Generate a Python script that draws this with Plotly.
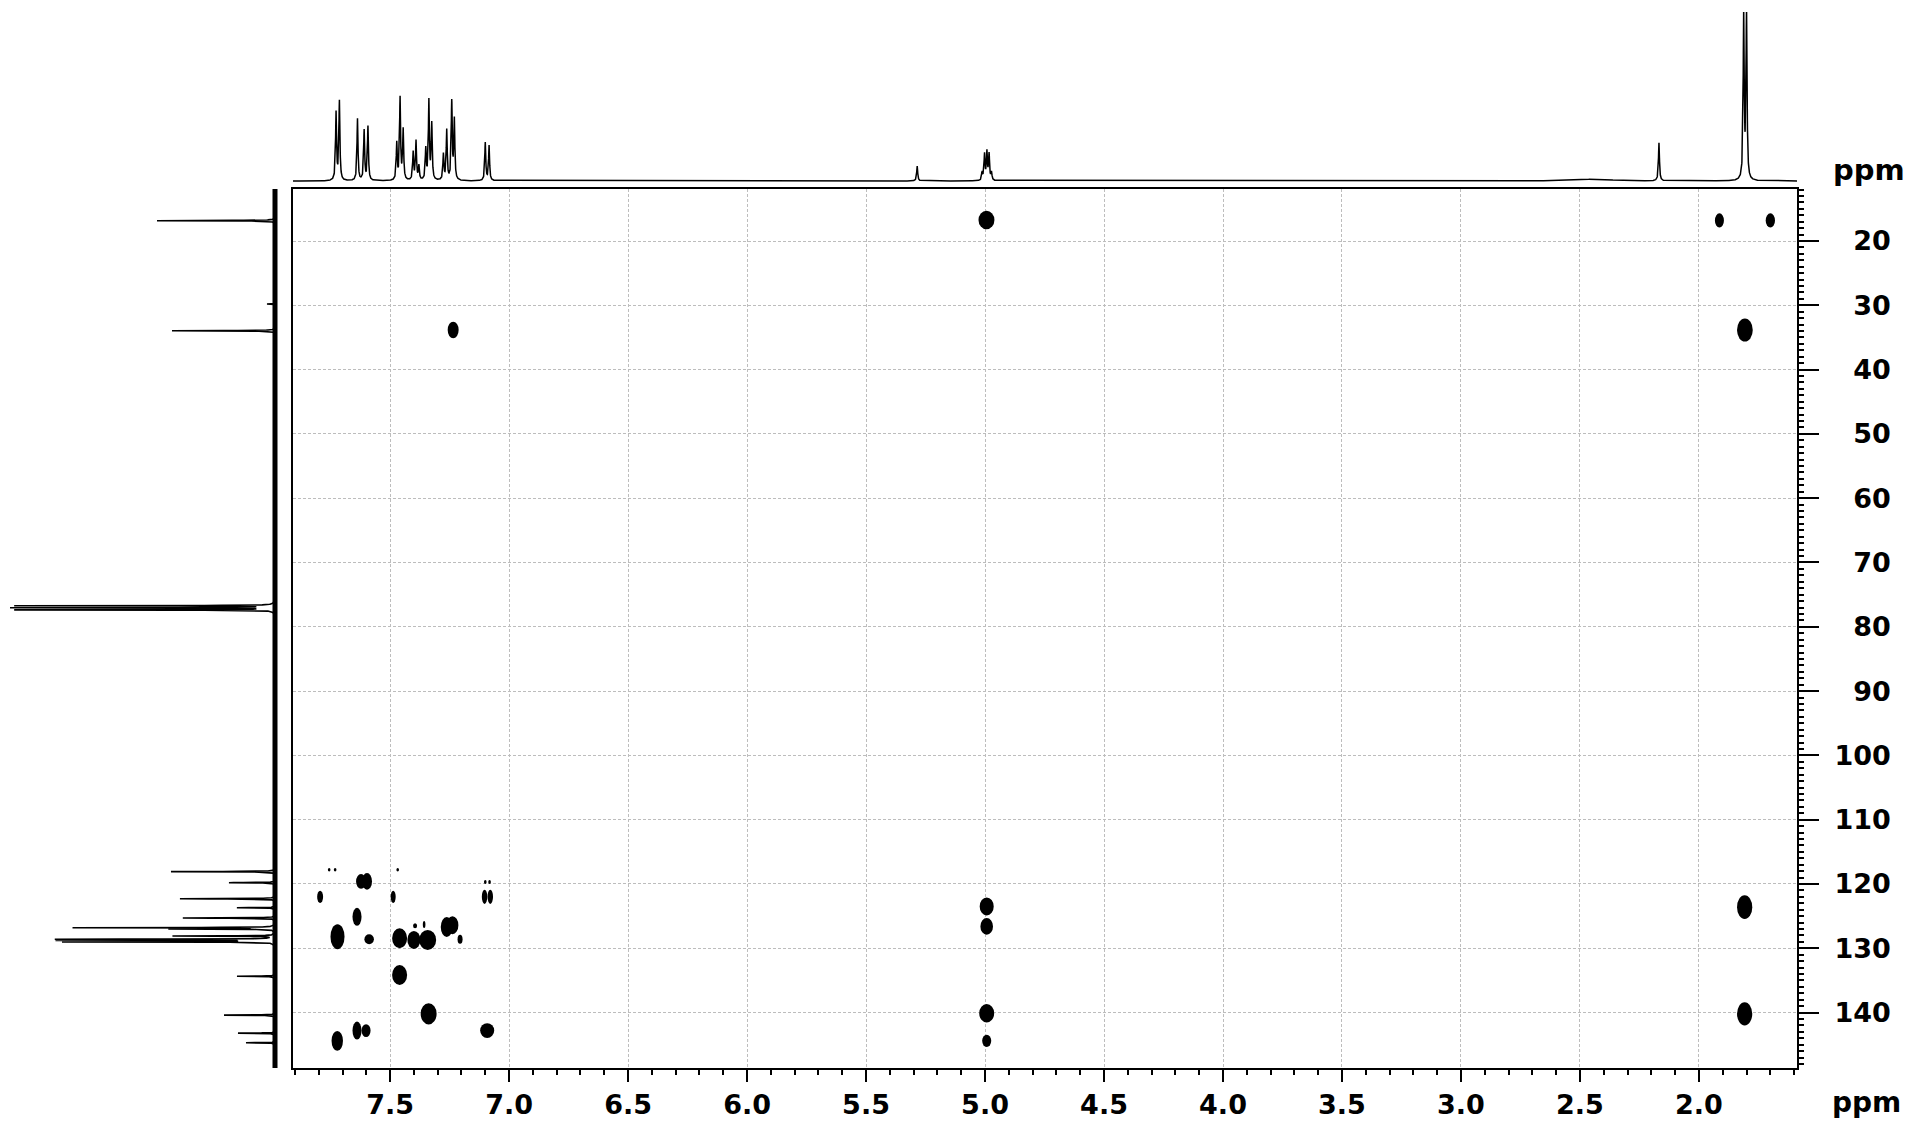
import numpy as np
import plotly.graph_objects as go

# ---------------- data ----------------
# 1H projection (top): chemical shift (ppm), height (arb.), half-width (ppm)
h1_shift = [7.727, 7.713, 7.637, 7.609, 7.593, 7.472, 7.458, 7.445, 7.403, 7.391,
            7.379, 7.350, 7.337, 7.325, 7.276, 7.262, 7.241, 7.230, 7.100, 7.084,
            5.285, 5.012, 5.002, 4.992, 4.983, 4.973, 2.168, 1.812, 1.800, 2.430]
h1_height = [68, 79, 62, 50, 54, 37, 82, 50, 28, 39,
             14, 31, 79, 56, 26, 50, 78, 60, 38, 35,
             15, 8, 26, 28, 26, 8, 38, 166, 166, 2]
h1_hwhm = [0.0025] * 29 + [0.07]

# 13C projection (left): chemical shift (ppm), height (arb.)
c13_shift = [16.84, 29.8, 33.95, 76.73, 77.05, 77.37, 118.08, 119.8, 122.3, 123.7,
             125.3, 126.8, 127.0, 128.1, 128.6, 128.8, 129.0, 134.35, 140.4, 143.2, 144.7]
c13_height = [118, 8, 103, 258, 261, 258, 104, 46, 95, 38,
              92, 200, 102, 101, 214, 210, 207, 38, 51, 37, 29]

# HMBC cross peaks: 1H shift, 13C shift, 1H extent (ppm), 13C extent (ppm)
cross_h = [4.994, 1.914, 1.700, 7.235, 1.807, 4.993, 4.993, 4.993, 4.993, 1.808,
           1.808, 7.622, 7.597, 7.794, 7.487, 7.103, 7.079, 7.639, 7.721, 7.588,
           7.460, 7.400, 7.342, 7.395, 7.357, 7.262, 7.238, 7.206, 7.460, 7.338,
           7.639, 7.601, 7.722, 7.092, 7.756, 7.731, 7.468, 7.100, 7.082]
cross_c = [16.73, 16.8, 16.8, 33.84, 33.84, 123.5, 126.6, 140.1, 144.4, 123.6,
           140.2, 119.6, 119.6, 122.0, 122.0, 122.0, 122.0, 125.1, 128.2, 128.6,
           128.45, 128.7, 128.7, 126.5, 126.3, 126.7, 126.4, 128.6, 134.15, 140.2,
           142.8, 142.8, 144.4, 142.8, 117.8, 117.8, 117.8, 119.7, 119.7]
cross_dh = [0.067, 0.038, 0.039, 0.046, 0.066, 0.059, 0.053, 0.063, 0.038, 0.064,
            0.064, 0.042, 0.042, 0.025, 0.021, 0.023, 0.023, 0.038, 0.059, 0.040,
            0.063, 0.055, 0.071, 0.017, 0.011, 0.050, 0.050, 0.021, 0.063, 0.067,
            0.038, 0.038, 0.048, 0.059, 0.011, 0.011, 0.011, 0.011, 0.011]
cross_dc = [2.9, 2.2, 2.2, 2.6, 3.6, 2.8, 2.6, 2.85, 1.9, 3.7,
            3.6, 2.3, 2.6, 1.9, 1.9, 2.2, 2.2, 2.8, 3.9, 1.55,
            3.1, 2.8, 3.1, 0.8, 1.1, 3.1, 2.8, 1.4, 3.1, 3.3,
            2.8, 2.0, 3.1, 2.3, 0.55, 0.55, 0.55, 0.6, 0.6]

x_ticks = [7.5, 7.0, 6.5, 6.0, 5.5, 5.0, 4.5, 4.0, 3.5, 3.0, 2.5, 2.0]
x_tick_labels = ["7.5", "7.0", "6.5", "6.0", "5.5", "5.0", "4.5", "4.0", "3.5", "3.0", "2.5", "2.0"]
y_ticks = [20, 30, 40, 50, 60, 70, 80, 90, 100, 110, 120, 130, 140]
y_tick_labels = ["20", "30", "40", "50", "60", "70", "80", "90", "100", "110", "120", "130", "140"]

# ---------------- geometry ----------------
W, H = 1917, 1121
X_RANGE = [7.908, 1.588]
Y_RANGE = [148.62, 11.913]
MAIN_X = [293 / W, 1797 / W]
MAIN_Y = [1 - 1068 / H, 1 - 189 / H]

FONT = "DejaVu Sans"

# ---------------- spectra ----------------
hgrid = np.union1d(np.arange(1.585, 7.91, 0.0005), np.array(h1_shift))
hspec = np.zeros_like(hgrid)
for p, a, g in zip(h1_shift, h1_height, h1_hwhm):
    hspec += a / (1 + ((hgrid - p) / g) ** 2)

cgrid = np.union1d(np.arange(11.9, 148.7, 0.01), np.array(c13_shift))
cspec = np.zeros_like(cgrid)
for p, a in zip(c13_shift, c13_height):
    cspec += a / (1 + ((cgrid - p) / 0.03) ** 2)

fig = go.Figure()

fig.add_trace(go.Scatter(x=hgrid, y=hspec, xaxis="x2", yaxis="y2", mode="lines",
                         line=dict(color="black", width=1.5), hoverinfo="skip"))
fig.add_trace(go.Scatter(x=[0, 0], y=[Y_RANGE[0], Y_RANGE[1]], xaxis="x3", yaxis="y3",
                         mode="lines", line=dict(color="black", width=5), hoverinfo="skip"))
fig.add_trace(go.Scatter(x=cspec, y=cgrid, xaxis="x3", yaxis="y3", mode="lines",
                         line=dict(color="black", width=1.6), hoverinfo="skip"))
fig.add_trace(go.Scatter(x=cross_h, y=cross_c, xaxis="x", yaxis="y", mode="markers",
                         marker=dict(size=1, color="rgba(0,0,0,0)"), hoverinfo="skip"))

shapes = []
for h, c, dh, dc in zip(cross_h, cross_c, cross_dh, cross_dc):
    shapes.append(dict(type="circle", xref="x", yref="y",
                       x0=h + dh / 2, x1=h - dh / 2, y0=c - dc / 2, y1=c + dc / 2,
                       fillcolor="black", line=dict(width=0), layer="above"))

tickfont = dict(family=FONT, size=27, color="black", weight="bold")

fig.update_layout(
    width=W, height=H,
    margin=dict(l=0, r=0, t=0, b=0, pad=0),
    paper_bgcolor="white", plot_bgcolor="white",
    showlegend=False,
    shapes=shapes,
    xaxis=dict(domain=MAIN_X, range=X_RANGE, anchor="y",
               showline=True, linecolor="black", linewidth=2, mirror=True,
               ticks="outside", ticklen=12, tickwidth=1.5, tickcolor="black",
               tickmode="array", tickvals=x_ticks, ticktext=x_tick_labels,
               tickfont=tickfont, ticklabelstandoff=0,
               showgrid=True, gridcolor="#bdbdbd", gridwidth=1, griddash="3px,2px",
               zeroline=False,
               minor=dict(tickmode="linear", tick0=0, dtick=0.1, ticks="outside",
                          ticklen=5, tickwidth=1.5, tickcolor="black", showgrid=False)),
    yaxis=dict(domain=MAIN_Y, range=Y_RANGE, anchor="x", side="right",
               showline=True, linecolor="black", linewidth=2, mirror=True,
               ticks="outside", ticklen=20, tickwidth=1.5, tickcolor="black",
               tickmode="array", tickvals=y_ticks,
               ticktext=[("\u00a0\u00a0" + t) if len(t) == 2 else t for t in y_tick_labels],
               tickfont=tickfont, ticklabelstandoff=10,
               showgrid=True, gridcolor="#bdbdbd", gridwidth=1, griddash="3px,2px",
               zeroline=False,
               minor=dict(tickmode="linear", tick0=0, dtick=1, ticks="outside",
                          ticklen=5, tickwidth=1.5, tickcolor="black", showgrid=False)),
    xaxis2=dict(domain=MAIN_X, range=X_RANGE, anchor="y2", visible=False),
    yaxis2=dict(domain=[1 - 183 / H, 1 - 12 / H], range=[-2, 169], anchor="x2", visible=False),
    xaxis3=dict(domain=[10 / W, 280 / W], range=[265, -5], anchor="y3", visible=False),
    yaxis3=dict(domain=MAIN_Y, range=Y_RANGE, anchor="x3", visible=False),
    annotations=[
        dict(text="ppm", xref="paper", yref="paper", x=1869 / W, y=1 - 170 / H,
             xanchor="center", yanchor="middle", showarrow=False,
             font=dict(family=FONT, size=29, color="black", weight="bold")),
        dict(text="ppm", xref="paper", yref="paper", x=1866 / W, y=0.0,
             xanchor="center", yanchor="bottom", showarrow=False,
             font=dict(family=FONT, size=28, color="black", weight="bold")),
    ],
)

fig.write_html("out.html", config={"displayModeBar": False},
               post_script="document.body.style.margin='0';document.body.style.overflow='hidden';")
